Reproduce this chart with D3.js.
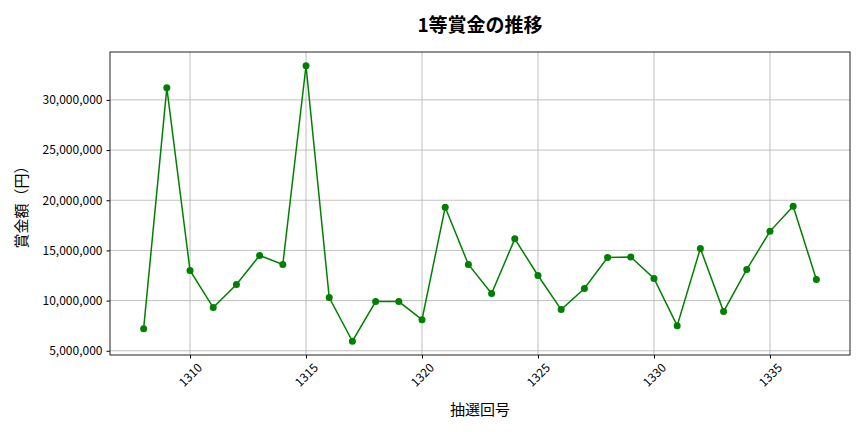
<!DOCTYPE html>
<html><head><meta charset="utf-8">
<script src="https://cdn.jsdelivr.net/npm/d3@7"></script>
<style>body{margin:0;background:#fff}svg{display:block}text{font-family:"Noto Sans CJK JP","Noto Sans",sans-serif}</style>
</head><body><svg id="c" width="864" height="432"></svg>
<script>
const draws = [1308,1309,1310,1311,1312,1313,1314,1315,1316,1317,1318,1319,1320,1321,1322,1323,1324,1325,1326,1327,1328,1329,1330,1331,1332,1333,1334,1335,1336,1337];
const prizes = [7200000,31200000,13000000,9300000,11600000,14500000,13600000,33400000,10300000,5950000,9900000,9900000,8100000,19300000,13600000,10700000,16150000,12500000,9100000,11200000,14300000,14350000,12200000,7500000,15200000,8900000,13100000,16900000,19400000,12100000];
const xTicks = [1310,1315,1320,1325,1330,1335];
const yTicks = [5000000,10000000,15000000,20000000,25000000,30000000];
const title = "1等賞金の推移", xLabel = "抽選回号", yLabel = "賞金額（円）";

const svg = d3.select("#c");
const L=110,R=850,T=52,B=355;
const xmin=d3.min(draws),xmax=d3.max(draws),xp=(xmax-xmin)*0.05;
const ymin=d3.min(prizes),ymax=d3.max(prizes),yp=(ymax-ymin)*0.05;
const x=d3.scaleLinear().domain([xmin-xp,xmax+xp]).range([L,R]);
const y=d3.scaleLinear().domain([ymin-yp,ymax+yp]).range([B,T]);

const g=svg.append("g");
g.selectAll(".gx").data(xTicks).join("line").attr("x1",d=>x(d)).attr("x2",d=>x(d)).attr("y1",T).attr("y2",B).attr("stroke","#b0b0b0").attr("stroke-width",0.8);
g.selectAll(".gy").data(yTicks).join("line").attr("y1",d=>y(d)).attr("y2",d=>y(d)).attr("x1",L).attr("x2",R).attr("stroke","#b0b0b0").attr("stroke-width",0.8);

const xa=svg.append("g").attr("transform",`translate(0,${B})`).call(d3.axisBottom(x).tickValues(xTicks).tickFormat(d3.format("d")).tickSize(3.5));
xa.select(".domain").remove();
xa.selectAll("text").attr("font-size",12).attr("fill","#000").attr("text-anchor","middle").attr("dy","0.35em").attr("y",0)
  .attr("transform","translate(0,20) rotate(-45)");
xa.selectAll("line").attr("stroke","#000");
const ya=svg.append("g").attr("transform",`translate(${L},0)`).call(d3.axisLeft(y).tickValues(yTicks).tickFormat(d3.format(",")).tickSize(3.5));
ya.select(".domain").remove();
ya.selectAll("text").attr("font-size",12).attr("fill","#000").attr("x",-7.5);
ya.selectAll("line").attr("stroke","#000");

svg.append("path").datum(draws.map((d,i)=>[d,prizes[i]])).attr("fill","none").attr("stroke","#008000").attr("stroke-width",1.5)
  .attr("d",d3.line().x(d=>x(d[0])).y(d=>y(d[1])));
svg.selectAll(".pt").data(draws.map((d,i)=>[d,prizes[i]])).join("circle").attr("cx",d=>x(d[0])).attr("cy",d=>y(d[1])).attr("r",3.5).attr("fill","#008000");

svg.append("rect").attr("x",L).attr("y",T).attr("width",R-L).attr("height",B-T).attr("fill","none").attr("stroke","#222").attr("stroke-width",1);

svg.append("text").attr("x",(L+R)/2).attr("y",32).attr("text-anchor","middle").attr("font-size",19).attr("font-weight","bold").text(title);
svg.append("text").attr("x",(L+R)/2).attr("y",415).attr("text-anchor","middle").attr("font-size",15).text(xLabel);
svg.append("text").attr("transform",`translate(27,${(T+B)/2}) rotate(-90)`).attr("text-anchor","middle").attr("font-size",15).text(yLabel);
</script></body></html>
